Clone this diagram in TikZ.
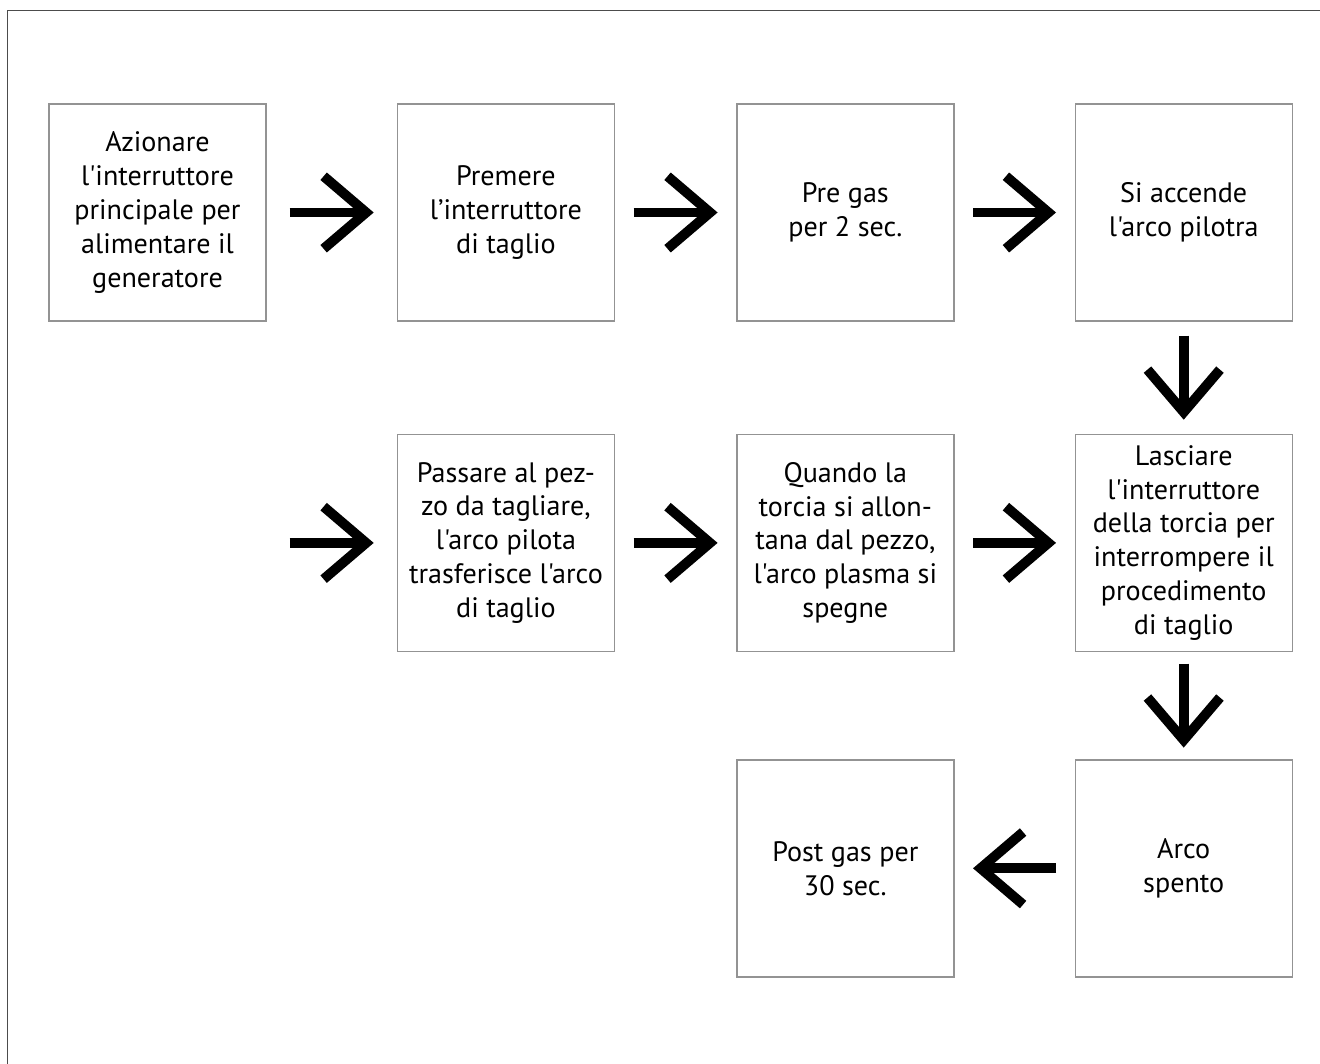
\documentclass[tikz,border=0pt]{standalone}
\usepackage{fontspec}
\setmainfont{PT Sans}[Ligatures=TeXOff]
\usetikzlibrary{positioning, arrows.meta}
\tikzset{
box/.style={draw=gray!85, line width=0.8pt, minimum width=4.34cm, minimum height=4.34cm, inner sep=0pt, align=center, font=\fontsize{16}{19.3}\selectfont}, % the square steps
flow/.style={line width=5.6pt, -{Straight Barb[length=0.85cm, width=1.45cm]}}, % the thick black arrows
gap/.style={shorten <=#1, shorten >=#1},
}

\begin{document}
\begin{tikzpicture}
    \useasboundingbox (0,0) rectangle (26.4,-21.28);
    \draw[gray!60!black, line width=1.1pt] (0.15,-21.28) -- (0.15,-0.21) -- (26.4,-0.21);

    % first row
    \node[box] (azionare) at (3.15,-4.25) {Azionare\\l'interruttore\\principale per\\alimentare il\\generatore};
    \node[box, right=2.6cm of azionare] (premere) {Premere\\l’interruttore\\di taglio};
    \node[box, right=2.42cm of premere] (pregas) {Pre gas\\per 2 sec.};
    \node[box, right=2.4cm of pregas] (accende) {Si accende\\l'arco pilotra};

    % second row
    \node[box, below=2.24cm of premere] (passare) {Passare al pez-\\zo da tagliare,\\l'arco pilota\\trasferisce l'arco\\di taglio};
    \node[box, below=2.24cm of pregas] (quando) {Quando la\\torcia si allon-\\tana dal pezzo,\\l'arco plasma si\\spegne};
    \node[box, below=2.24cm of accende] (lasciare) {Lasciare\\l'interruttore\\della torcia per\\interrompere il\\procedimento\\di taglio};
    \coordinate[left=2.6cm of passare.west] (ingresso);

    % third row
    \node[box, below=2.14cm of lasciare] (spento) {Arco\\spento};
    \node[box, below=2.14cm of quando] (postgas) {Post gas per\\30 sec.};

    \draw[flow, gap=.46cm] (azionare) -- (premere);
    \draw[flow, gap=.37cm] (premere) -- (pregas);
    \draw[flow, gap=.37cm] (pregas) -- (accende);
    \draw[flow, gap=.28cm] (accende) -- (lasciare);
    \draw[flow, gap=.46cm] (ingresso) -- (passare);
    \draw[flow, gap=.37cm] (passare) -- (quando);
    \draw[flow, gap=.37cm] (quando) -- (lasciare);
    \draw[flow, gap=.23cm] (lasciare) -- (spento);
    \draw[flow, gap=.37cm] (spento) -- (postgas);
\end{tikzpicture}
\end{document}
